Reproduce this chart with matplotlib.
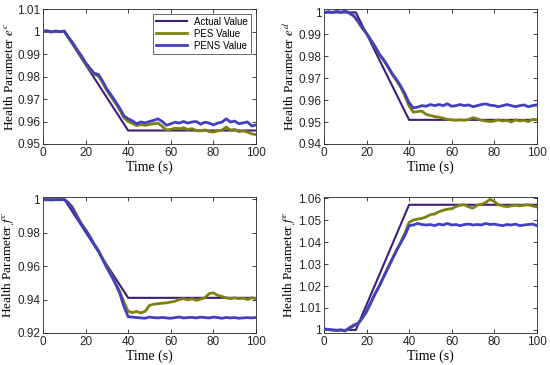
import matplotlib
matplotlib.use("Agg")
import matplotlib.pyplot as plt

# ---------------- data ----------------
time = list(range(0, 101, 2))

# actual value breakpoints (time, value)
act_ec_t = [0, 10, 40, 100]
act_ec_v = [1.0, 1.0, 0.956, 0.956]
act_ed_t = [0, 15, 40, 100]
act_ed_v = [1.0, 1.0, 0.951, 0.951]
act_fc_t = [0, 10, 40, 100]
act_fc_v = [1.0, 1.0, 0.941, 0.941]
act_fe_t = [0, 15, 40, 100]
act_fe_v = [1.0, 1.0, 1.057, 1.057]

pens_ec = [1.0002, 1.0004, 0.9998, 1.0003, 0.9999, 1.0003, 0.9975, 0.9950, 0.9920, 0.9893,
           0.9862, 0.9838, 0.9815, 0.9810, 0.9780, 0.9745, 0.9718, 0.9690, 0.9660, 0.9625,
           0.9612, 0.9603, 0.9590, 0.9598, 0.9594, 0.9600, 0.9605, 0.9612, 0.9600, 0.9583,
           0.9590, 0.9597, 0.9593, 0.9600, 0.9593, 0.9598, 0.9600, 0.9588, 0.9597, 0.9593,
           0.9585, 0.9593, 0.9597, 0.9612, 0.9598, 0.9602, 0.9590, 0.9594, 0.9598, 0.9580,
           0.9585]
pes_ec = [1.0000, 1.0002, 0.9999, 1.0001, 1.0000, 1.0001, 0.9972, 0.9946, 0.9917, 0.9890,
          0.9858, 0.9833, 0.9810, 0.9803, 0.9773, 0.9738, 0.9710, 0.9682, 0.9652, 0.9617,
          0.9600, 0.9592, 0.9582, 0.9586, 0.9583, 0.9587, 0.9590, 0.9593, 0.9578, 0.9562,
          0.9565, 0.9570, 0.9568, 0.9572, 0.9565, 0.9568, 0.9560, 0.9558, 0.9563, 0.9555,
          0.9553, 0.9558, 0.9562, 0.9575, 0.9562, 0.9565, 0.9555, 0.9558, 0.9553, 0.9545,
          0.9542]

pens_ed = [0.9998, 1.0003, 1.0000, 1.0005, 1.0001, 1.0006, 0.9998, 0.9985, 0.9960, 0.9930,
           0.9905, 0.9875, 0.9845, 0.9810, 0.9785, 0.9755, 0.9722, 0.9695, 0.9665, 0.9630,
           0.9588, 0.9565, 0.9568, 0.9575, 0.9572, 0.9580, 0.9575, 0.9580, 0.9575, 0.9583,
           0.9572, 0.9575, 0.9580, 0.9575, 0.9578, 0.9570, 0.9575, 0.9580, 0.9583, 0.9577,
           0.9575, 0.9570, 0.9575, 0.9580, 0.9575, 0.9570, 0.9575, 0.9578, 0.9570, 0.9575,
           0.9578]
pes_ed = [0.9998, 1.0002, 1.0000, 1.0003, 1.0000, 1.0004, 0.9996, 0.9983, 0.9958, 0.9928,
          0.9903, 0.9872, 0.9842, 0.9808, 0.9782, 0.9752, 0.9718, 0.9690, 0.9660, 0.9620,
          0.9573, 0.9545, 0.9548, 0.9550, 0.9535, 0.9530, 0.9525, 0.9522, 0.9518, 0.9512,
          0.9510, 0.9508, 0.9510, 0.9508, 0.9512, 0.9520, 0.9515, 0.9508, 0.9505, 0.9502,
          0.9505, 0.9510, 0.9505, 0.9508, 0.9500, 0.9510, 0.9505, 0.9508, 0.9502, 0.9512,
          0.9510]

pens_fc = [0.9995, 0.9996, 0.9995, 0.9997, 0.9996, 0.9997, 0.9975, 0.9940, 0.9895, 0.9850,
           0.9815, 0.9775, 0.9730, 0.9690, 0.9640, 0.9590, 0.9545, 0.9495, 0.9440, 0.9360,
           0.9297, 0.9295, 0.9292, 0.9290, 0.9288, 0.9295, 0.9292, 0.9290, 0.9293, 0.9290,
           0.9288, 0.9292, 0.9295, 0.9290, 0.9292, 0.9293, 0.9290, 0.9295, 0.9292, 0.9290,
           0.9295, 0.9292, 0.9288, 0.9293, 0.9290, 0.9292, 0.9288, 0.9290, 0.9292, 0.9290,
           0.9293]
pes_fc = [0.9998, 0.9999, 0.9997, 0.9999, 0.9998, 0.9999, 0.9980, 0.9950, 0.9900, 0.9855,
          0.9818, 0.9778, 0.9733, 0.9695, 0.9645, 0.9595, 0.9550, 0.9500, 0.9450, 0.9385,
          0.9330, 0.9322, 0.9328, 0.9320, 0.9330, 0.9365, 0.9372, 0.9375, 0.9378, 0.9380,
          0.9385, 0.9390, 0.9400, 0.9405, 0.9398, 0.9405, 0.9395, 0.9403, 0.9410, 0.9435,
          0.9440, 0.9425, 0.9418, 0.9410, 0.9405, 0.9410, 0.9405, 0.9408, 0.9400, 0.9410,
          0.9405]

pens_fe = [1.0005, 1.0002, 1.0000, 0.9998, 1.0000, 0.9995, 1.0010, 1.0022, 1.0030, 1.0055,
           1.0085, 1.0125, 1.0165, 1.0200, 1.0240, 1.0280, 1.0320, 1.0360, 1.0395, 1.0430,
           1.0475, 1.0478, 1.0485, 1.0480, 1.0478, 1.0480, 1.0475, 1.0482, 1.0478, 1.0485,
           1.0478, 1.0480, 1.0475, 1.0480, 1.0482, 1.0478, 1.0480, 1.0478, 1.0485, 1.0480,
           1.0482, 1.0478, 1.0475, 1.0480, 1.0478, 1.0482, 1.0475, 1.0478, 1.0480, 1.0482,
           1.0475]
pes_fe = [1.0003, 1.0001, 0.9999, 0.9997, 0.9999, 0.9996, 1.0008, 1.0018, 1.0028, 1.0052,
          1.0082, 1.0122, 1.0163, 1.0200, 1.0242, 1.0283, 1.0322, 1.0362, 1.0398, 1.0440,
          1.0490, 1.0500, 1.0505, 1.0508, 1.0515, 1.0525, 1.0528, 1.0538, 1.0545, 1.0550,
          1.0552, 1.0562, 1.0568, 1.0570, 1.0560, 1.0555, 1.0568, 1.0572, 1.0580, 1.0595,
          1.0585, 1.0570, 1.0565, 1.0562, 1.0565, 1.0568, 1.0565, 1.0568, 1.0570, 1.0565,
          1.0560]

xticks = [0, 20, 40, 60, 80, 100]
yticks_ec = [0.95, 0.96, 0.97, 0.98, 0.99, 1.0, 1.01]
ylabels_ec = ["0.95", "0.96", "0.97", "0.98", "0.99", "1", "1.01"]
yticks_ed = [0.94, 0.95, 0.96, 0.97, 0.98, 0.99, 1.0]
ylabels_ed = ["0.94", "0.95", "0.96", "0.97", "0.98", "0.99", "1"]
yticks_fc = [0.92, 0.94, 0.96, 0.98, 1.0]
ylabels_fc = ["0.92", "0.94", "0.96", "0.98", "1"]
yticks_fe = [1.0, 1.01, 1.02, 1.03, 1.04, 1.05, 1.06]
ylabels_fe = ["1", "1.01", "1.02", "1.03", "1.04", "1.05", "1.06"]

series_names = ["Actual Value", "PES Value", "PENS Value"]

# ---------------- style ----------------
c_act = "#3d1d7a"
c_pes = "#7f7f12"
c_pens = "#4040c0"
tick_font = "Liberation Sans"
label_font = "Liberation Serif"
plt.rcParams["mathtext.fontset"] = "stix"

fig = plt.figure(figsize=(5.5, 3.65), dpi=100)

panels = [
    ([0.078, 0.6055, 0.3875, 0.3695], act_ec_t, act_ec_v, pes_ec, pens_ec,
     (0.95, 1.01), yticks_ec, ylabels_ec, r"Health Parameter $e^c$", True),
    ([0.589, 0.6055, 0.387, 0.3695], act_ed_t, act_ed_v, pes_ed, pens_ed,
     (0.94, 1.0015), yticks_ed, ylabels_ed, r"Health Parameter $e^d$", False),
    ([0.078, 0.0877, 0.3875, 0.3723], act_fc_t, act_fc_v, pes_fc, pens_fc,
     (0.92, 1.0012), yticks_fc, ylabels_fc, r"Health Parameter $f^c$", False),
    ([0.589, 0.0877, 0.387, 0.3723], act_fe_t, act_fe_v, pes_fe, pens_fe,
     (0.9986, 1.0605), yticks_fe, ylabels_fe, r"Health Parameter $f^e$", False),
]

for rect, at, av, pes, pens, ylim, yt, yl, ylab, leg in panels:
    ax = fig.add_axes(rect)
    ax.plot(at, av, color=c_act, lw=1.5, label=series_names[0], zorder=3)
    ax.plot(time, pes, color=c_pes, lw=2.0, label=series_names[1], zorder=4)
    ax.plot(time, pens, color=c_pens, lw=2.0, label=series_names[2], zorder=5)
    ax.set_xlim(0, 100)
    ax.set_ylim(*ylim)
    ax.set_xticks(xticks)
    ax.set_xticklabels([str(v) for v in xticks], fontfamily=tick_font, fontsize=8.5)
    ax.set_yticks(yt)
    ax.set_yticklabels(yl, fontfamily=tick_font, fontsize=8.5)
    ax.tick_params(direction="in", top=True, right=True, length=3, width=0.6,
                   pad=2, colors="#262626")
    for sp in ax.spines.values():
        sp.set_linewidth(0.6)
        sp.set_color("#262626")
    ax.set_xlabel("Time (s)", fontfamily=label_font, fontsize=10, labelpad=1.5)
    ax.set_ylabel(ylab, fontfamily=label_font, fontsize=9.5, labelpad=1)
    if leg:
        lg = ax.legend(loc="upper right", prop={"family": tick_font, "size": 7},
                       frameon=True, fancybox=False, edgecolor="#262626",
                       borderpad=0.3, handlelength=3.2, labelspacing=0.2,
                       borderaxespad=0.5)
        lg.get_frame().set_linewidth(0.6)

fig.savefig("out.png", dpi=100)
